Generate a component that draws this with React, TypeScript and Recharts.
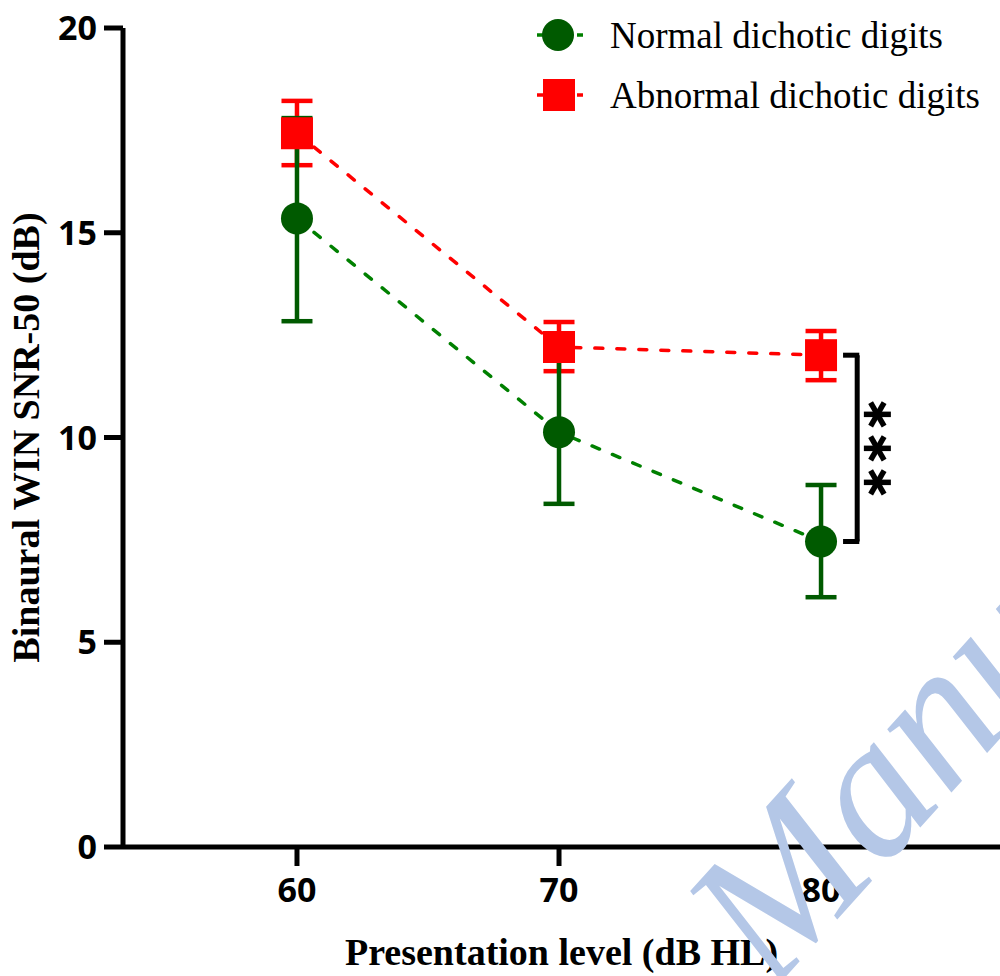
import React from "react";
import {
  ComposedChart,
  Line,
  XAxis,
  YAxis,
  ErrorBar,
  Label,
  ReferenceLine,
  ReferenceDot,
} from "recharts";

// presentation levels (dB HL)
const levels = [60, 70, 80];

// Normal dichotic digits: mean and error bar ends
const normalMean = [15.35, 10.13, 7.46];
const normalLow = [12.84, 8.38, 6.1];
const normalHigh = [17.8, 11.88, 8.84];

// Abnormal dichotic digits
const abnormalMean = [17.43, 12.21, 12.01];
const abnormalLow = [16.65, 11.62, 11.4];
const abnormalHigh = [18.22, 12.82, 12.6];

const seriesNames = ["Normal dichotic digits", "Abnormal dichotic digits"];

const yTicks = [0, 5, 10, 15, 20];
const xTicks = [60, 70, 80];

const GREEN_DARK = "#005A00";
const GREEN_LINE = "#008000";
const RED = "#FF0000";

const build = (mean: number[], low: number[], high: number[]) =>
  levels.map((level, i) => ({
    level,
    value: mean[i],
    err: [mean[i] - low[i], high[i] - mean[i]],
  }));

const normalData = build(normalMean, normalLow, normalHigh);
const abnormalData = build(abnormalMean, abnormalLow, abnormalHigh);

const tickStyle = {
  fontFamily: "'Open Sans', sans-serif",
  fontWeight: 700,
  fontSize: 34,
  fill: "#000",
};

const serifBold = {
  fontFamily: "'Liberation Serif', 'Times New Roman', serif",
  fontWeight: 700,
  fontSize: 38,
  fill: "#000",
};

const legendText = {
  fontFamily: "'Liberation Serif', 'Times New Roman', serif",
  fontWeight: 400,
  fontSize: 37,
  fill: "#000",
};

const GreenDot = (p: any) => (
  <circle key={`g-${p.index}`} cx={p.cx} cy={p.cy} r={16} fill={GREEN_DARK} />
);

const RedDot = (p: any) => (
  <rect key={`r-${p.index}`} x={p.cx - 16} y={p.cy - 16} width={32} height={32} fill={RED} />
);

const Asterisks = (p: any) => {
  const arms = [0, 60, 120];
  return (
    <g>
      {[-34, 0, 34].map((dy) => (
        <g key={dy} transform={`translate(${p.cx}, ${p.cy + dy})`}>
          {arms.map((a) => (
            <line
              key={a}
              x1={-13.5 * Math.cos((a * Math.PI) / 180)}
              y1={-13.5 * Math.sin((a * Math.PI) / 180)}
              x2={13.5 * Math.cos((a * Math.PI) / 180)}
              y2={13.5 * Math.sin((a * Math.PI) / 180)}
              stroke="#000"
              strokeWidth={5.5}
            />
          ))}
        </g>
      ))}
    </g>
  );
};

// legend drawn on top of the plot, top right
const LegendBox = () => (
  <svg
    width={1000}
    height={130}
    style={{ position: "absolute", left: 0, top: 0, pointerEvents: "none" }}
  >
    <g>
      <line x1={537} y1={35} x2={583} y2={35} stroke={GREEN_LINE} strokeWidth={3.5} strokeDasharray="12 28" />
      <circle cx={558} cy={35} r={16} fill={GREEN_DARK} />
      <text x={610} y={48} style={legendText}>
        {seriesNames[0]}
      </text>
    </g>
    <g>
      <line x1={537} y1={95} x2={583} y2={95} stroke={RED} strokeWidth={3.5} strokeDasharray="12 28" />
      <rect x={543} y={79} width={32} height={32} fill={RED} />
      <text x={610} y={108} style={legendText}>
        {seriesNames[1]}
      </text>
    </g>
  </svg>
);

export default function App() {
  return (
    <div style={{ position: "absolute", left: 0, top: 0, width: 1000, height: 976, background: "#fff", overflow: "hidden" }}>
      <ComposedChart
        width={1000}
        height={976}
        margin={{ top: 28, right: 0, bottom: 0, left: 0 }}
      >
        <XAxis
          dataKey="level"
          type="number"
          domain={[53.36, 86.83]}
          ticks={xTicks}
          allowDataOverflow
          height={129}
          tick={tickStyle}
          tickSize={19}
          tickMargin={12}
          axisLine={{ stroke: "#000", strokeWidth: 5 }}
          tickLine={{ stroke: "#000", strokeWidth: 5 }}
        >
          <Label
            content={() => (
              <text x={561.5} y={965} textAnchor="middle" style={serifBold}>
                Presentation level (dB HL)
              </text>
            )}
          />
        </XAxis>
        <YAxis
          type="number"
          domain={[0, 20]}
          ticks={yTicks}
          width={123}
          tick={tickStyle}
          tickSize={19}
          tickMargin={7}
          axisLine={{ stroke: "#000", strokeWidth: 5 }}
          tickLine={{ stroke: "#000", strokeWidth: 5 }}
        >
          <Label
            content={() => (
              <text
                transform="translate(39, 437.5) rotate(-90)"
                textAnchor="middle"
                style={serifBold}
              >
                Binaural WIN SNR-50 (dB)
              </text>
            )}
          />
        </YAxis>
        <Line
          data={abnormalData}
          dataKey="value"
          name={seriesNames[1]}
          stroke={RED}
          strokeWidth={3.5}
          strokeDasharray="8 14"
          strokeLinecap="round"
          dot={RedDot}
          activeDot={false}
          isAnimationActive={false}
        >
          <ErrorBar dataKey="err" direction="y" width={15.5} strokeWidth={4.5} stroke={RED} />
        </Line>
        <Line
          data={normalData}
          dataKey="value"
          name={seriesNames[0]}
          stroke={GREEN_LINE}
          strokeWidth={3.5}
          strokeDasharray="8 14"
          strokeLinecap="round"
          dot={GreenDot}
          activeDot={false}
          isAnimationActive={false}
        >
          <ErrorBar dataKey="err" direction="y" width={15.5} strokeWidth={4.5} stroke={GREEN_DARK} />
        </Line>
        {/* significance bracket between the two groups at 80 dB HL */}
        <ReferenceLine
          segment={[{ x: 81.38, y: abnormalMean[2] }, { x: 81.38, y: normalMean[2] }]}
          stroke="#000"
          strokeWidth={5}
        />
        <ReferenceLine
          segment={[{ x: 80.84, y: abnormalMean[2] }, { x: 81.46, y: abnormalMean[2] }]}
          stroke="#000"
          strokeWidth={5}
        />
        <ReferenceLine
          segment={[{ x: 80.84, y: normalMean[2] }, { x: 81.46, y: normalMean[2] }]}
          stroke="#000"
          strokeWidth={5}
        />
        <ReferenceDot
          x={82.15}
          y={(abnormalMean[2] + normalMean[2]) / 2}
          r={0}
          shape={Asterisks}
        />
      </ComposedChart>
      <LegendBox />
      <svg
        width={1000}
        height={976}
        style={{ position: "absolute", left: 0, top: 0, pointerEvents: "none" }}
      >
        <text
          transform="translate(772, 992) rotate(-48)"
          style={{
            fontFamily: "'Liberation Serif', serif",
            fontStyle: "italic",
            fontSize: 196,
            fill: "#B4C7E7",
          }}
        >
          Manu
        </text>
      </svg>
    </div>
  );
}
